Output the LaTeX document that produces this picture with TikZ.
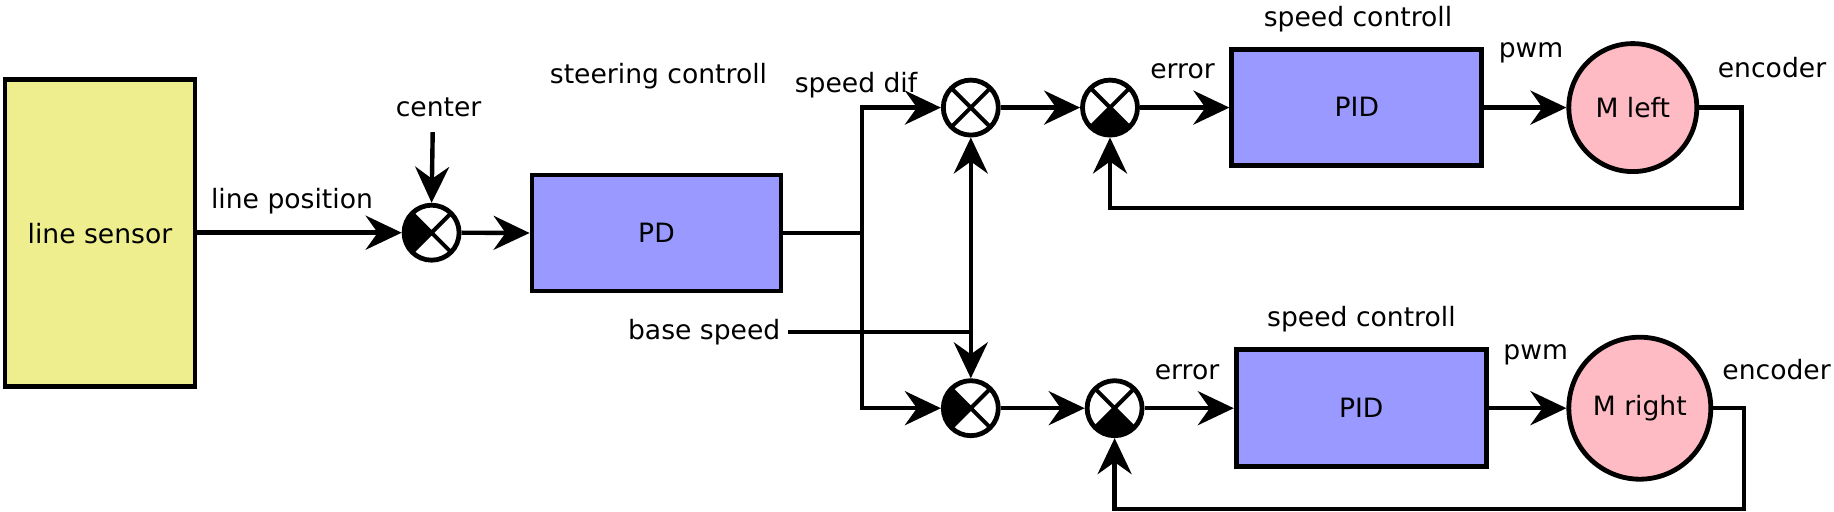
\documentclass[tikz,border=0pt]{standalone}
\usepackage{fontspec}
\setmainfont{DejaVu Sans}
\usetikzlibrary{arrows.meta}
\definecolor{sensorfill}{RGB}{238,238,142}
\definecolor{boxfill}{RGB}{153,153,255}
\definecolor{motorfill}{RGB}{255,187,195}
\newcommand\drawsumcross{\draw[black,line width=2pt] (path picture bounding box.north west) -- (path picture bounding box.south east)
      (path picture bounding box.north east) -- (path picture bounding box.south west);}
\begin{document}
\begin{tikzpicture}[x=0.5pt,y=-0.5pt,
  font=\fontsize{13.3}{16}\selectfont,
  every path/.style={line width=2.2pt},
  arr/.style={-{Stealth[length=18pt,width=17pt,inset=6pt]}},
  blockbox/.style={draw,fill=boxfill,rectangle,inner sep=0pt,line width=2.4pt},
  motor/.style={draw,fill=motorfill,circle,inner sep=0pt,line width=2.4pt},
  sumbase/.style={draw,circle,fill=white,minimum size=27.5pt,inner sep=0pt,line width=2.4pt},
  sumj/.style={sumbase,path picture={\drawsumcross}},
  sumleft/.style={sumbase,path picture={\fill[black] (path picture bounding box.center) -- (path picture bounding box.north west) -- (path picture bounding box.south west) -- cycle; \drawsumcross}},
  sumbottom/.style={sumbase,path picture={\fill[black] (path picture bounding box.center) -- (path picture bounding box.south west) -- (path picture bounding box.south east) -- cycle; \drawsumcross}},
  lbl/.style={inner sep=0pt}
]
\useasboundingbox (0,0) rectangle (1834,512);

% blocks
\node[draw,fill=sensorfill,rectangle,inner sep=0pt,line width=2.4pt,minimum width=95pt,minimum height=153.5pt] (sensor) at (100,233.3) {line sensor};
\node[sumleft] (s1) at (431.6,232.7) {};
\node[blockbox,minimum width=124.5pt,minimum height=58pt] (pd) at (656.5,233) {PD};
\node[sumj] (sa) at (970.8,107.6) {};
\node[sumbottom] (sb) at (1110,107.6) {};
\node[sumleft] (sc) at (970.8,408.2) {};
\node[sumbottom] (sd) at (1114.6,408.2) {};
\node[blockbox,minimum width=125pt,minimum height=58pt] (pid1) at (1356.8,107.2) {PID};
\node[blockbox,minimum width=125pt,minimum height=58.5pt] (pid2) at (1361.2,408.2) {PID};
\node[motor,minimum size=64pt] (ml) at (1632.8,107.6) {M left};
\node[motor,minimum size=71pt] (mr) at (1639.8,408.2) {M right};

% labels
\node[lbl] (tlinepos) at (292,201) {line position};
\node[lbl] (tcenter) at (438.6,107.6) {center};
\node[lbl] (tsteer) at (658.5,76) {steering controll};
\node[lbl] (tsdif) at (856,85.4) {speed dif};
\node[lbl,anchor=east] (tbase) at (782.5,332.2) {base speed};
\node[lbl] (terr1) at (1182.5,71.3) {error};
\node[lbl] (terr2) at (1187,372) {error};
\node[lbl] (tsc1) at (1358,18.7) {speed controll};
\node[lbl] (tsc2) at (1361.4,319.3) {speed controll};
\node[lbl] (tpwm1) at (1531,52.6) {pwm};
\node[lbl] (tpwm2) at (1535.7,354.4) {pwm};
\node[lbl] (tenc1) at (1772,67.8) {encoder};
\node[lbl] (tenc2) at (1776.6,369.6) {encoder};

% coordinates
\coordinate (cin) at (432.7,132.2);
\coordinate (br) at (862,233);
\coordinate (bs) at (788,332.2);
\coordinate (bj) at (970.8,332.2);

% connectors
\draw[arr] (sensor.east |- s1) -- (s1.west);
\draw[arr] (cin) -- (s1.north);
\draw[arr] (s1.east) -- (pd.west);
\draw (pd.east |- br) -- (br);
\draw[arr] (br) -- (br |- sa) -- (sa.west);
\draw[arr] (br) -- (br |- sc) -- (sc.west);
\draw (bs) -- (bj);
\draw[arr] (bj) -- (sa.south);
\draw[arr] (bj) -- (sc.north);
\draw[arr] (sa.east) -- (sb.west);
\draw[arr] (sc.east) -- (sd.west);
\draw[arr] (sb.east) -- (pid1.west |- sb);
\draw[arr] (sd.east) -- (pid2.west |- sd);
\draw[arr] (pid1.east |- ml) -- (ml.west);
\draw[arr] (pid2.east |- mr) -- (mr.west);
\draw[arr] (ml.east) -- (1741.6,107.6) -- (1741.6,208.2) -- (sb.south |- 0,208.2) -- (sb.south);
\draw[arr] (mr.east) -- (1743.9,408.2) -- (1743.9,508.8) -- (sd.south |- 0,508.8) -- (sd.south);
\end{tikzpicture}
\end{document}
